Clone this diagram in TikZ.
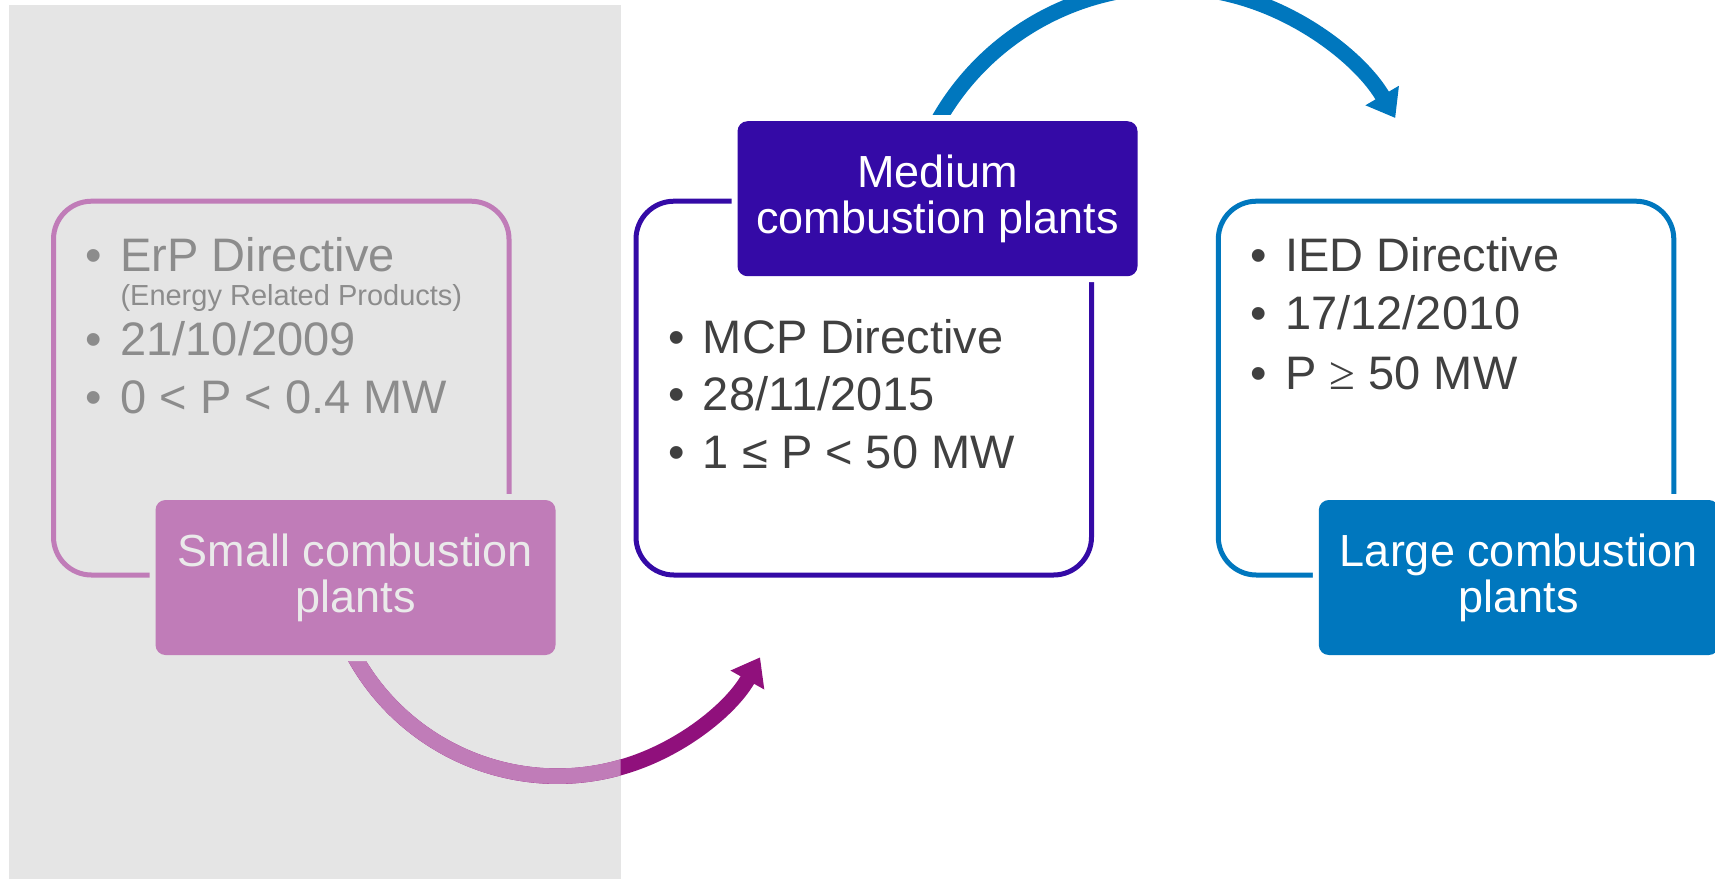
\documentclass[tikz,border=0pt]{standalone}
\usepackage{fontspec}
\setmainfont{Liberation Sans}
\newfontfamily\serifsym{Liberation Serif}
\usetikzlibrary{arrows.meta,calc}

\definecolor{plum}{RGB}{144,16,124}
\definecolor{plumfade}{RGB}{192,124,184}
\definecolor{indigo}{RGB}{52,10,166}
\definecolor{ocean}{RGB}{0,119,190}
\definecolor{ink}{RGB}{64,64,64}
\definecolor{fadeink}{RGB}{140,140,140}
\definecolor{veil}{RGB}{229,229,229}
\definecolor{veiltext}{RGB}{234,234,234}

\pgfdeclarelayer{base}
\pgfdeclarelayer{arcs}
\pgfsetlayers{base,arcs,main}

\newcommand\bulleted[1]{\makebox[34.8pt][l]{•}#1}

\begin{document}
\begin{tikzpicture}[x=1pt,y=1pt,
  frame/.style={draw=#1, line width=5pt, rounded corners=38pt,
    minimum width=455.5pt, minimum height=373.8pt, inner sep=0pt},
  tag/.style={fill=#1, rounded corners=10pt, minimum width=400pt,
    minimum height=155pt, inner sep=0pt, align=center,
    font=\fontsize{45}{46}\selectfont},
  halo/.style={preaction={draw=#1, line width=12pt}},
  item/.style={anchor=base west, inner sep=0pt, font=\fontsize{47}{56}\selectfont},
  subitem/.style={anchor=base west, inner sep=0pt, font=\fontsize{29}{34}\selectfont},
  flow/.style={line width=15.5pt, -{Triangle[width=37pt,length=26pt]}}
]
\useasboundingbox (0,0) rectangle (1715,-879);

% shaded panel behind the small-plant group
\begin{pgfonlayer}{base}
  \fill[veil] (8.5,-5) rectangle (620.7,-879);
\end{pgfonlayer}

% outline boxes
\node[frame=plumfade] (smallbox) at (281.25,-388.1) {};
\node[frame=indigo]   (medbox)   at (863.75,-388.1) {};
\node[frame=ocean]    (largebox) at (1446.05,-388.1) {};

% title tags
\node[tag=plumfade, halo=veil, text=veiltext] (slab)
  at ($(smallbox.south west)+(304.5,0)$) {Small combustion\\plants};
\node[tag=indigo, halo=white, text=white] (mlab)
  at ($(medbox.north west)+(304,0)$) {Medium\\combustion plants};
\node[tag=ocean, halo=white, text=white] (llab)
  at ($(largebox.south west)+(303,0)$) {Large combustion\\plants};

% small plants
\node[item, text=fadeink] (s1) at ($(smallbox.north west)+(34.5,-72.5)$) {\bulleted{ErP Directive}};
\node[subitem, text=fadeink] (s1b) at ($(smallbox.north west)+(69.3,-106.5)$) {(Energy Related Products)};
\node[item, text=fadeink] (s2) at ($(smallbox.north west)+(34.5,-156.5)$) {\bulleted{21/10/2009}};
\node[item, text=fadeink] (s3) at ($(smallbox.north west)+(34.5,-214.5)$) {\bulleted{0 < P < 0.4 MW}};

% medium plants
\node[item, text=ink] (m1) at ($(medbox.north west)+(34.5,-154.8)$) {\bulleted{MCP Directive}};
\node[item, text=ink] (m2) at ($(medbox.north west)+(34.5,-211.8)$) {\bulleted{28/11/2015}};
\node[item, text=ink] (m3) at ($(medbox.north west)+(34.5,-269.8)$) {\bulleted{1 ≤ P < 50 MW}};

% large plants
\node[item, text=ink] (l1) at ($(largebox.north west)+(34.5,-72.5)$) {\bulleted{IED Directive}};
\node[item, text=ink] (l2) at ($(largebox.north west)+(34.5,-130.5)$) {\bulleted{17/12/2010}};
\node[item, text=ink] (l3) at ($(largebox.north west)+(34.5,-191)$) {\bulleted{P {\serifsym ≥} 50 MW}};

% curved arrows between the groups
\begin{pgfonlayer}{arcs}
  \draw[flow, plum] ($(slab.south)+(-16,31.7)$)
    arc[start angle=200, end angle=330.8, radius=232];
  \begin{scope}
    \clip (8.5,-5) rectangle (620.7,-879);
    \draw[plumfade, line width=15.5pt] ($(slab.south)+(-16,31.7)$)
      arc[start angle=200, end angle=300, radius=232];
  \end{scope}
  \draw[flow, ocean] ($(mlab.north)+(-17.6,-39.4)$)
    arc[start angle=160, end angle=30.2, radius=263.5];
\end{pgfonlayer}
\end{tikzpicture}
\end{document}
